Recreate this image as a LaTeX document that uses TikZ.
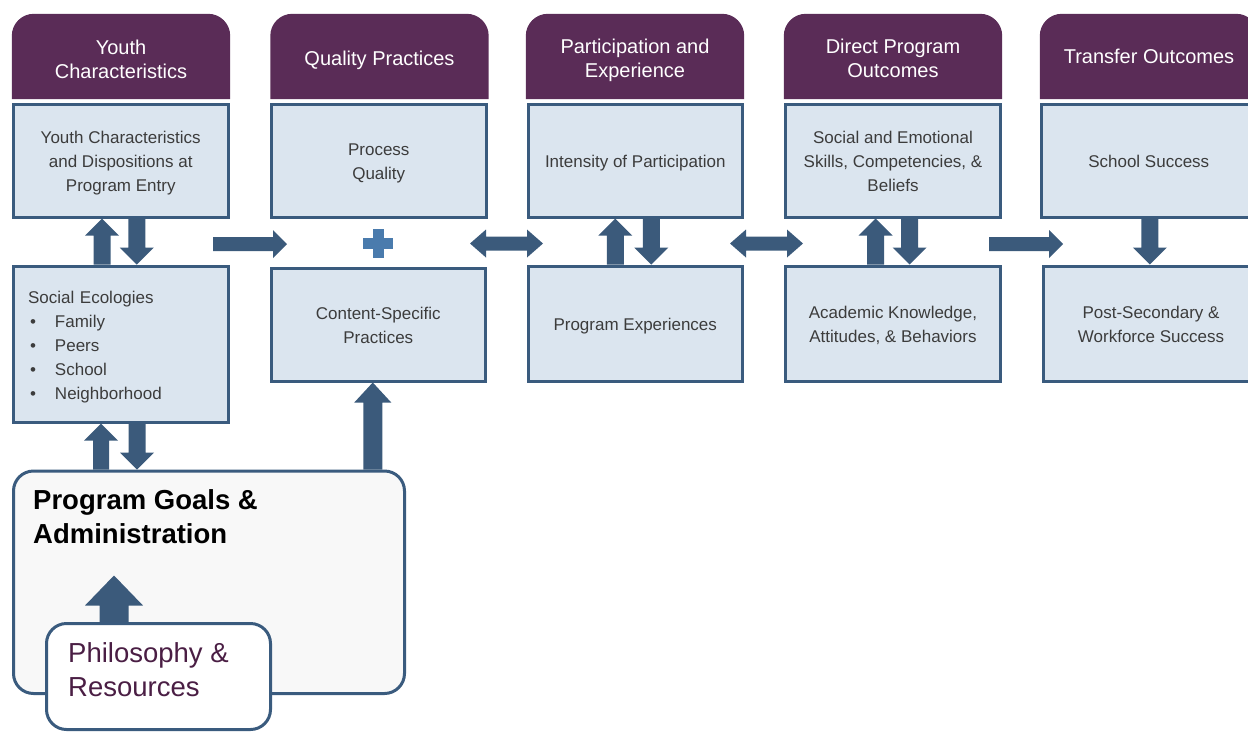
\documentclass[tikz,border=0pt]{standalone}
\usepackage{fontspec}
\setmainfont{Liberation Sans}
\usetikzlibrary{calc,backgrounds}
\definecolor{hdr}{HTML}{5A2C57}
\definecolor{boxf}{HTML}{DBE5EF}
\definecolor{bord}{HTML}{3A5B7E}
\definecolor{arr}{HTML}{3B5A7B}
\definecolor{plusc}{HTML}{4A7BAD}
\definecolor{txt}{HTML}{3C3C3C}
\definecolor{pgfill}{HTML}{F8F8F8}
\definecolor{philc}{HTML}{4A1E44}
\newcommand\tpad[1]{\rule{0pt}{#1pt}}
\newcommand\upArr[5]{\fill[arr] let \p1=(#1), \p2=(#2) in
  (\x1-#3,\y1) -- (\x1-#3,\y2-#5) -- (\x1-#4,\y2-#5) -- (\x1,\y2)
  -- (\x1+#4,\y2-#5) -- (\x1+#3,\y2-#5) -- (\x1+#3,\y1) -- cycle;}
\newcommand\downArr[5]{\fill[arr] let \p1=(#1), \p2=(#2) in
  (\x1-#3,\y1) -- (\x1-#3,\y2+#5) -- (\x1-#4,\y2+#5) -- (\x1,\y2)
  -- (\x1+#4,\y2+#5) -- (\x1+#3,\y2+#5) -- (\x1+#3,\y1) -- cycle;}
\newcommand\rightArr[5]{\fill[arr] let \p1=(#1), \p2=(#2) in
  (\x1,\y1-#3) -- (\x2-#5,\y1-#3) -- (\x2-#5,\y1-#4) -- (\x2,\y1)
  -- (\x2-#5,\y1+#4) -- (\x2-#5,\y1+#3) -- (\x1,\y1+#3) -- cycle;}
\newcommand\lrArr[5]{\fill[arr] let \p1=(#1), \p2=(#2) in
  (\x1,\y1) -- (\x1+#5,\y1+#4) -- (\x1+#5,\y1+#3) -- (\x2-#5,\y1+#3)
  -- (\x2-#5,\y1+#4) -- (\x2,\y1) -- (\x2-#5,\y1-#4) -- (\x2-#5,\y1-#3)
  -- (\x1+#5,\y1-#3) -- (\x1+#5,\y1-#4) -- cycle;}
\tikzset{
  hdrbox/.style={minimum width=218pt, minimum height=85pt, inner sep=0pt, align=center,
    text=white, font=\fontsize{20}{24.5}\selectfont},
  hdrfill/.style={fill=hdr},
  cbox/.style={draw=bord, line width=3pt, fill=boxf, minimum width=214.5pt,
    minimum height=113pt, inner sep=0pt, align=center, text=txt,
    font=\fontsize{17}{24}\selectfont},
  rbox/.style={draw=bord, line width=3pt, rounded corners=20pt, inner sep=0pt},
}
\begin{document}
\begin{tikzpicture}[x=1pt,y=-1pt]
\clip (0,0) rectangle (1248,732);
% headers
\node[hdrbox] (h1) at (121,56.5) {\tpad{20.5}Youth\\Characteristics};
\node[hdrbox] (h2) at (379.5,56.5) {\tpad{22.5}Quality Practices};
\node[hdrbox] (h3) at (635,56.5) {\tpad{22.5}Participation and\\Experience};
\node[hdrbox] (h4) at (893,56.5) {\tpad{18.5}Direct Program\\Outcomes};
\node[hdrbox] (h5) at (1149,56.5) {Transfer Outcomes};
\begin{pgfonlayer}{background}
\foreach \h in {h1,h2,h3,h4,h5}{
  \fill[hdrfill] (\h.south west) [rounded corners=22pt] -- (\h.north west) -- (\h.north east) [sharp corners] -- (\h.south east) -- cycle;
}
\end{pgfonlayer}
% top row boxes
\node[cbox] (y1) at (120.75,160.5) {\tpad{18.5}Youth Characteristics\\and Dispositions at\\Program Entry};
\node[cbox] (pq) at (378.75,160.5) {\tpad{18.5}Process\\Quality};
\node[cbox] (ip) at (635.25,160.5) {\tpad{18.5}Intensity of Participation};
\node[cbox] (se) at (893,160.5) {\tpad{14.5}Social and Emotional\\Skills, Competencies, \&\\Beliefs};
\node[cbox] (ss) at (1148.75,160.5) {\tpad{14.5}School Success};
% bottom row boxes
\node[cbox, minimum height=156pt, text width=186pt, align=left] (s1) at (121,344)
  {\tpad{18.5}Social Ecologies\\
   \hspace*{2pt}\makebox[25pt][l]{•}Family\\
   \hspace*{2pt}\makebox[25pt][l]{•}Peers\\
   \hspace*{2pt}\makebox[25pt][l]{•}School\\
   \hspace*{2pt}\makebox[25pt][l]{•}Neighborhood};
\node[cbox] (cs) at (378.25,324.5) {\tpad{14.5}Content-Specific\\Practices};
\node[cbox, minimum height=115pt] (pe) at (635.25,323.5) {\tpad{18.5}Program Experiences};
\node[cbox, minimum height=115pt] (ak) at (893,323.5) {\tpad{16.5}Academic Knowledge,\\Attitudes, \& Behaviors};
\node[cbox, minimum height=115pt] (ps) at (1151,323.5) {\tpad{14.5}Post-Secondary \&\\Workforce Success};
% program goals and philosophy
\node[rbox, fill=pgfill, minimum width=391pt, minimum height=222.5pt] (pg) at (209,582.25) {};
\node[anchor=north west, inner sep=0pt, align=left, font=\fontsize{27.5}{34}\selectfont\bfseries] (pgt) at (33,489) {Program Goals \&\\Administration};
\node[rbox, fill=white, minimum width=224pt, minimum height=106pt] (ph) at (158.5,676.5) {};
\node[anchor=north west, inner sep=0pt, align=left, text=philc, font=\fontsize{27.5}{34}\selectfont] (pht) at (68,642) {Philosophy \&\\Resources};
% vertical arrows, top gutter
\upArr{$(s1.north)+(-19,0)$}{$(y1.south)+(-19,0)$}{8.5pt}{17pt}{17pt}
\downArr{$(y1.south)+(16,0)$}{$(s1.north)+(16,0)$}{8.5pt}{17pt}{17pt}
\upArr{$(pe.north)+(-20,0)$}{$(ip.south)+(-20,0)$}{8.5pt}{17pt}{17pt}
\downArr{$(ip.south)+(16,0)$}{$(pe.north)+(16,0)$}{8.5pt}{17pt}{17pt}
\upArr{$(ak.north)+(-17.5,0)$}{$(se.south)+(-17.5,0)$}{8.5pt}{17pt}{17pt}
\downArr{$(se.south)+(16.5,0)$}{$(ak.north)+(16.5,0)$}{8.5pt}{17pt}{17pt}
\coordinate (c5) at ($(ss.south)+(1,0)$);
\downArr{c5}{c5 |- ps.north}{8.5pt}{17pt}{17pt}
% lower arrows
\coordinate (c1u) at ($(s1.south)+(-20,0)$);
\coordinate (c1d) at ($(s1.south)+(16,0)$);
\upArr{c1u |- pg.north}{c1u}{8pt}{17pt}{17pt}
\downArr{c1d}{c1d |- pg.north}{8.5pt}{17pt}{17pt}
\coordinate (c2u) at ($(cs.south)+(-5.5,0)$);
\upArr{c2u |- pg.north}{c2u}{9.5pt}{18.5pt}{20pt}
\coordinate (c3u) at ($(ph.north)+(-44.5,0)$);
\upArr{c3u}{$(c3u)+(0,-46.5)$}{14.5pt}{29pt}{30pt}
% horizontal arrows
\coordinate (r1a) at (213,244);
\coordinate (r1b) at (287,244);
\rightArr{r1a}{r1b}{7pt}{14pt}{14pt}
\coordinate (d1a) at (470,243.5);
\coordinate (d1b) at (543,243.5);
\lrArr{d1a}{d1b}{7pt}{14pt}{16pt}
\coordinate (d2a) at (730,243.5);
\coordinate (d2b) at (803,243.5);
\lrArr{d2a}{d2b}{7pt}{14pt}{16pt}
\coordinate (r2a) at (989,244);
\coordinate (r2b) at (1063,244);
\rightArr{r2a}{r2b}{7pt}{14pt}{14pt}
% plus sign
\fill[plusc] (363,237.5) rectangle (393,248.5);
\fill[plusc] (372.5,229) rectangle (383.5,258);
\end{tikzpicture}
\end{document}
